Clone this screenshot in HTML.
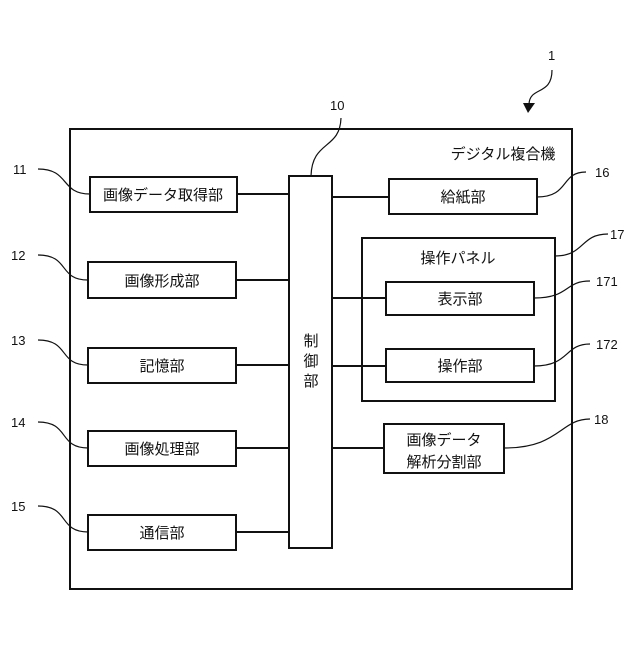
<!DOCTYPE html>
<html><head><meta charset="utf-8"><style>
body{margin:0;background:#fff}
text{font-family:"Liberation Sans","Noto Sans CJK JP",sans-serif;fill:#111}
</style></head><body>
<svg width="640" height="640" xmlns="http://www.w3.org/2000/svg">
<g fill="none" stroke="#111" stroke-width="2">
<rect x="70" y="129" width="502" height="460"/>
<rect x="289" y="176" width="43" height="372"/>
<rect x="90" y="177" width="147" height="35"/>
<rect x="88" y="262" width="148" height="36"/>
<rect x="88" y="348" width="148" height="35"/>
<rect x="88" y="431" width="148" height="35"/>
<rect x="88" y="515" width="148" height="35"/>
<rect x="389" y="179" width="148" height="35"/>
<rect x="362" y="238" width="193" height="163"/>
<rect x="386" y="282" width="148" height="33"/>
<rect x="386" y="349" width="148" height="33"/>
<rect x="384" y="424" width="120" height="49"/>
<path d="M237 194H289M236 280H289M236 365H289M236 448H289M236 532H289"/>
<path d="M332 197H389M332 298H386M332 366H386M332 448H384"/>
</g>
<g fill="none" stroke="#111" stroke-width="1.2">
<path d="M38 169C70 169 60 194 90 194"/>
<path d="M38 255C70 255 58 280 88 280"/>
<path d="M38 340C70 340 58 365 88 365"/>
<path d="M38 422C70 422 58 448 88 448"/>
<path d="M38 506C70 506 58 532 88 532"/>
<path d="M586 172C560 172 570 197 537 197"/>
<path d="M608 234C580 234 585 256 555 256"/>
<path d="M590 281C564 281 570 298 534 298"/>
<path d="M590 344C564 344 570 366 534 366"/>
<path d="M590 419C560 419 560 448 504 448"/>
<path d="M341 118C340 150 312 140 311 176"/>
<path d="M552 70C552 96 530 86 529 104"/>
</g>
<path d="M523 103L535 103L528 113Z" fill="#111"/>
<g font-size="13">
<text x="548" y="60">1</text>
<text x="330" y="110">10</text>
<text x="13" y="174">11</text>
<text x="11" y="260">12</text>
<text x="11" y="345">13</text>
<text x="11" y="427">14</text>
<text x="11" y="511">15</text>
<text x="595" y="177">16</text>
<text x="610" y="239">17</text>
<text x="596" y="286">171</text>
<text x="596" y="349">172</text>
<text x="594" y="424">18</text>
</g>
<g font-size="15" text-anchor="middle">
<text x="503" y="159">デジタル複合機</text>
<text x="163" y="200">画像データ取得部</text>
<text x="162" y="286">画像形成部</text>
<text x="162" y="371">記憶部</text>
<text x="162" y="454">画像処理部</text>
<text x="162" y="538">通信部</text>
<text x="463" y="202">給紙部</text>
<text x="458" y="263">操作パネル</text>
<text x="460" y="304">表示部</text>
<text x="460" y="371">操作部</text>
<text x="444" y="445">画像データ</text>
<text x="444" y="467">解析分割部</text>
<text x="311" y="346">制</text>
<text x="311" y="366">御</text>
<text x="311" y="386">部</text>
</g>
</svg>
</body></html>
